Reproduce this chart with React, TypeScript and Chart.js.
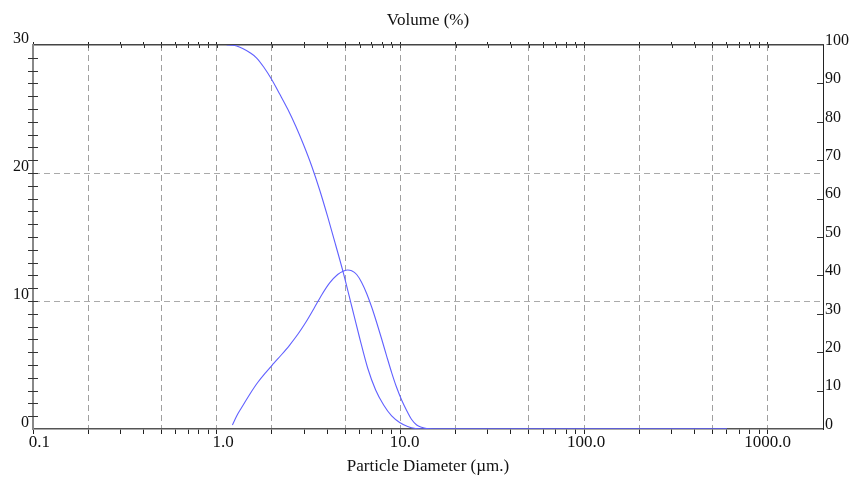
import React, { useEffect, useRef } from "react";
import { Chart, registerables } from "chart.js";

Chart.register(...registerables);

// ---- data ----
// cumulative volume (%) vs particle diameter (µm), right axis
const cumDiameters = [1.134, 1.207, 1.285, 1.385, 1.512, 1.651, 1.803, 1.993, 2.203, 2.435, 2.692, 2.976, 3.29, 3.637, 4.02, 4.444, 4.913, 5.431, 6.003, 6.637, 7.337, 8.11, 8.966, 9.913, 10.96, 12.11, 13.39, 20, 50, 100, 200, 400, 600];
const cumValues = [100, 99.95, 99.74, 99.09, 98.05, 96.61, 94.27, 91.02, 87.24, 83.33, 78.91, 73.96, 68.49, 62.24, 55.29, 47.92, 40.36, 32.03, 23.7, 15.89, 10.16, 6.25, 3.39, 1.69, 0.65, 0.13, 0, 0, 0, 0, 0, 0, 0];

// volume (%) per size class vs particle diameter (µm), left axis
const freqDiameters = [1.218, 1.285, 1.368, 1.512, 1.672, 1.849, 2.043, 2.259, 2.497, 2.76, 3.051, 3.374, 3.729, 4.122, 4.557, 4.913, 5.166, 5.431, 5.783, 6.157, 6.555, 6.979, 7.43, 7.911, 8.423, 8.966, 9.547, 10.16, 10.82, 11.52, 12.27, 13.06, 13.91, 15.18, 20, 50, 100, 200, 400, 600];
const freqValues = [0.31, 1.02, 1.68, 2.7, 3.63, 4.41, 5.12, 5.82, 6.56, 7.38, 8.32, 9.38, 10.47, 11.41, 12.07, 12.34, 12.42, 12.36, 12.07, 11.45, 10.59, 9.53, 8.32, 7.03, 5.7, 4.41, 3.24, 2.27, 1.45, 0.74, 0.31, 0.13, 0.03, 0, 0, 0, 0, 0, 0, 0];

const xTickValues = [
  0.1, 0.2, 0.3, 0.4, 0.5, 0.6, 0.7, 0.8, 0.9,
  1, 2, 3, 4, 5, 6, 7, 8, 9,
  10, 20, 30, 40, 50, 60, 70, 80, 90,
  100, 200, 300, 400, 500, 600, 700, 800, 900,
  1000,
];
const xGridValues = [0.2, 0.5, 1, 2, 5, 10, 20, 50, 100, 200, 500, 1000];
const xLabelValues = [0.1, 1, 10, 100, 1000];
const xTickLabels = ["   0.1", "   1.0", "  10.0", " 100.0", "1000.0"];
const leftGridValues = [10, 20];

const FONT = "'Liberation Serif', 'Times New Roman', serif";
const near = (a: number, b: number) => Math.abs(a - b) / Math.max(Math.abs(b), 1e-9) < 1e-6;

const tickMarks = {
  id: "tickMarks",
  afterDraw(chart: any) {
    const { ctx, chartArea } = chart;
    const y = chart.scales.y;
    const y1 = chart.scales.y1;
    const x2 = chart.scales.x2;
    ctx.save();
    ctx.strokeStyle = "#333";
    ctx.lineWidth = 1;
    ctx.beginPath();
    for (let v = 1; v < 30; v++) {
      const py = Math.round(y.getPixelForValue(v)) + 0.5;
      ctx.moveTo(chartArea.left - 5, py);
      ctx.lineTo(chartArea.left + 5, py);
    }
    for (let v = 10; v < 100; v += 10) {
      const py = Math.round(y1.getPixelForValue(v)) + 0.5;
      ctx.moveTo(chartArea.right - 6, py);
      ctx.lineTo(chartArea.right, py);
    }
    for (const v of xTickValues) {
      if (near(v, 0.1)) continue;
      const px = Math.round(x2.getPixelForValue(v)) + 0.5;
      ctx.moveTo(px, chartArea.top);
      ctx.lineTo(px, chartArea.top + 3);
    }
    ctx.stroke();
    ctx.restore();
  },
};

const setXTicks = (scale: any) => {
  scale.ticks = xTickValues.map((v) => ({ value: v }));
};

export default function App() {
  const ref = useRef<HTMLCanvasElement | null>(null);

  useEffect(() => {
    if (!ref.current) return;
    const lineColor = "rgb(96, 96, 255)";
    const chart = new Chart(ref.current, {
      type: "line",
      data: {
        datasets: [
          {
            label: "Cumulative",
            data: cumDiameters.map((d, i) => ({ x: d, y: cumValues[i] })),
            borderColor: lineColor,
            borderWidth: 1.1,
            pointRadius: 0,
            fill: false,
            cubicInterpolationMode: "monotone",
            xAxisID: "x",
            yAxisID: "y1",
          },
          {
            label: "Volume",
            data: freqDiameters.map((d, i) => ({ x: d, y: freqValues[i] })),
            borderColor: lineColor,
            borderWidth: 1.1,
            pointRadius: 0,
            fill: false,
            cubicInterpolationMode: "monotone",
            xAxisID: "x",
            yAxisID: "y",
          },
        ],
      },
      options: {
        animation: false,
        responsive: false,
        layout: { padding: 0 },
        plugins: { legend: { display: false }, tooltip: { enabled: false } },
        scales: {
          x: {
            type: "logarithmic",
            position: "bottom",
            min: 0.1,
            max: 2000,
            afterBuildTicks: setXTicks,
            afterFit: (s: any) => { s.height = 48; },
            ticks: {
              autoSkip: false,
              maxRotation: 0,
              padding: 0,
              color: "#111",
              font: { family: FONT, size: 17, lineHeight: 1 },
              callback: (v: any) => {
                const i = xLabelValues.findIndex((lv) => near(Number(v), lv));
                return i >= 0 ? xTickLabels[i] : "";
              },
            },
            grid: {
              drawOnChartArea: true,
              drawTicks: true,
              tickLength: 5,
              tickColor: "#222",
              lineWidth: 1,
              color: (c: any) => (c.tick && xGridValues.some((g) => near(c.tick.value, g)) ? "#a0a0a0" : "rgba(0,0,0,0)"),
            },
            border: { color: "#555", width: 1.5, dash: [6, 4] },
            title: {
              display: true,
              text: "Particle Diameter (µm.)",
              color: "#111",
              font: { family: FONT, size: 17 },
              padding: { top: 0, bottom: 0 },
            },
          },
          x2: {
            type: "logarithmic",
            position: "top",
            min: 0.1,
            max: 2000,
            afterBuildTicks: setXTicks,
            afterFit: (s: any) => { s.height = 45; },
            ticks: { display: false, autoSkip: false },
            grid: {
              drawOnChartArea: false,
              drawTicks: true,
              tickLength: 3,
              tickColor: "#222",
            },
            border: { color: "#444", width: 1.5 },
            title: {
              display: true,
              text: "Volume (%)",
              color: "#111",
              font: { family: FONT, size: 17 },
              padding: { top: 10, bottom: 0 },
            },
          },
          y: {
            type: "linear",
            position: "left",
            min: 0,
            max: 30,
            afterFit: (s: any) => { s.width = 33; },
            ticks: {
              stepSize: 1,
              autoSkip: false,
              padding: 4,
              color: "#111",
              font: { family: FONT, size: 16, lineHeight: 0.75 },
              callback: (v: any) => (Number(v) % 10 === 0 ? [String(v), ""] : ""),
            },
            grid: {
              drawTicks: false,
              lineWidth: 1,
              color: (c: any) => (c.tick && leftGridValues.includes(c.tick.value) ? "#aaaaaa" : "rgba(0,0,0,0)"),
            },
            border: { color: "#888", width: 2, dash: [6, 4] },
          },
          y1: {
            type: "linear",
            position: "right",
            min: 0,
            max: 100,
            afterFit: (s: any) => { s.width = 29; },
            ticks: {
              stepSize: 10,
              autoSkip: false,
              padding: 2,
              color: "#111",
              font: { family: FONT, size: 16, lineHeight: 0.55 },
              callback: (v: any) => [String(v), ""],
            },
            grid: { drawOnChartArea: false, drawTicks: false },
            border: { color: "#222", width: 1 },
          },
        },
      } as any,
      plugins: [tickMarks],
    });
    return () => chart.destroy();
  }, []);

  return (
    <div style={{ position: "absolute", left: 0, top: 0, width: 852, height: 477, background: "#fff" }}>
      <canvas ref={ref} width={852} height={477} />
    </div>
  );
}
